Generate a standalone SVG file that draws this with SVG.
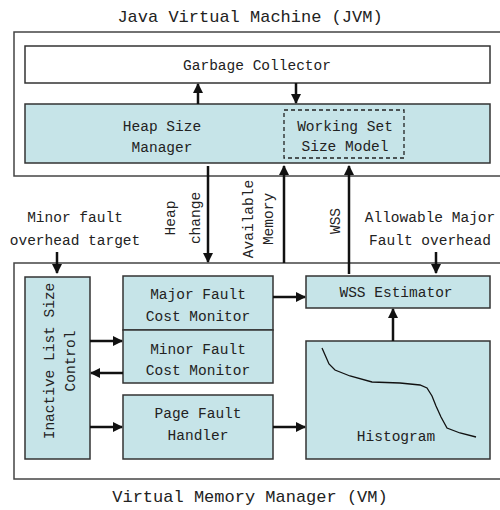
<svg xmlns="http://www.w3.org/2000/svg" width="500" height="510" viewBox="0 0 500 510">
<style>
text{font-family:"Liberation Mono","DejaVu Sans Mono",monospace;fill:#222;font-size:14.5px;text-anchor:middle}
.title{font-size:17px}
.box{fill:#c6e4e8;stroke:#333;stroke-width:1.5}
.white{fill:#fff;stroke:#333;stroke-width:1.5}
.outer{fill:none;stroke:#444;stroke-width:1.5}
.dash{fill:none;stroke:#222;stroke-width:1.3;stroke-dasharray:4,3}
.arr{stroke:#111;stroke-width:2.5;fill:none}
</style>
<defs>
<marker id="ah" viewBox="0 0 10 10" refX="9" refY="5" markerWidth="4" markerHeight="4" orient="auto" markerUnits="strokeWidth">
<path d="M0,0 L10,5 L0,10 z" fill="#111"/>
</marker>
</defs>
<text class="title" x="250" y="22">Java Virtual Machine (JVM)</text>
<rect class="outer" x="14" y="32" width="500" height="144"/>
<g id="gc"><rect class="white" x="25" y="46" width="465" height="37"/><text x="257" y="70">Garbage Collector</text></g>
<g id="hsm"><rect class="box" x="25" y="104" width="465" height="59"/><text x="162" y="131">Heap Size</text><text x="162" y="152">Manager</text></g>
<g id="wssm"><rect class="dash" x="284" y="110" width="120" height="48"/><text x="345" y="131">Working Set</text><text x="345" y="151">Size Model</text></g>
<text x="75" y="222">Minor fault</text>
<text x="75" y="245">overhead target</text>
<text x="430" y="222">Allowable Major</text>
<text x="430" y="245">Fault overhead</text>
<text transform="translate(175,218) rotate(-90)">Heap</text>
<text transform="translate(200,218) rotate(-90)">change</text>
<text transform="translate(253,219) rotate(-90)">Available</text>
<text transform="translate(273,219) rotate(-90)">Memory</text>
<text transform="translate(340,221) rotate(-90)">WSS</text>
<rect class="outer" x="14" y="263" width="500" height="216"/>
<g id="ilsc"><rect class="box" x="25" y="277" width="65" height="182"/><text transform="translate(54,361) rotate(-90)">Inactive List Size</text><text transform="translate(75,361) rotate(-90)">Control</text></g>
<g id="major"><rect class="box" x="123" y="276" width="150" height="54"/><text x="198" y="299">Major Fault</text><text x="198" y="321">Cost Monitor</text></g>
<g id="minor"><rect class="box" x="123" y="330" width="150" height="53"/><text x="198" y="354">Minor Fault</text><text x="198" y="375">Cost Monitor</text></g>
<g id="pfh"><rect class="box" x="123" y="395" width="150" height="64"/><text x="198" y="418">Page Fault</text><text x="198" y="440">Handler</text></g>
<g id="wsse"><rect class="box" x="306" y="276" width="184" height="32"/><text x="396" y="297">WSS Estimator</text></g>
<g id="hist"><rect class="box" x="306" y="341" width="184" height="118"/><path d="M322,348 L329,364 L335,370 L350,376 L372,382 L400,383 L420,385 L427,388 L432,396 L436,406 L441,417 L447,428 L460,433 L476,437" fill="none" stroke="#111" stroke-width="1.3"/><text x="396" y="441">Histogram</text></g>
<text class="title" x="250" y="502">Virtual Memory Manager (VM)</text>
<g id="connectors">
<line class="arr" x1="198" y1="104" x2="198" y2="84" marker-end="url(#ah)"/>
<line class="arr" x1="296" y1="83" x2="296" y2="103" marker-end="url(#ah)"/>
<line class="arr" x1="208" y1="166" x2="208" y2="262" marker-end="url(#ah)"/>
<line class="arr" x1="284" y1="263" x2="284" y2="166" marker-end="url(#ah)"/>
<line class="arr" x1="349" y1="274" x2="349" y2="166" marker-end="url(#ah)"/>
<line class="arr" x1="57" y1="252" x2="57" y2="273" marker-end="url(#ah)"/>
<line class="arr" x1="436" y1="252" x2="436" y2="273" marker-end="url(#ah)"/>
<line class="arr" x1="273" y1="297" x2="305" y2="297" marker-end="url(#ah)"/>
<line class="arr" x1="90" y1="341" x2="122" y2="341" marker-end="url(#ah)"/>
<line class="arr" x1="123" y1="373" x2="91" y2="373" marker-end="url(#ah)"/>
<line class="arr" x1="90" y1="427" x2="122" y2="427" marker-end="url(#ah)"/>
<line class="arr" x1="273" y1="427" x2="305" y2="427" marker-end="url(#ah)"/>
<line class="arr" x1="393" y1="341" x2="393" y2="309" marker-end="url(#ah)"/>
</g>
</svg>
